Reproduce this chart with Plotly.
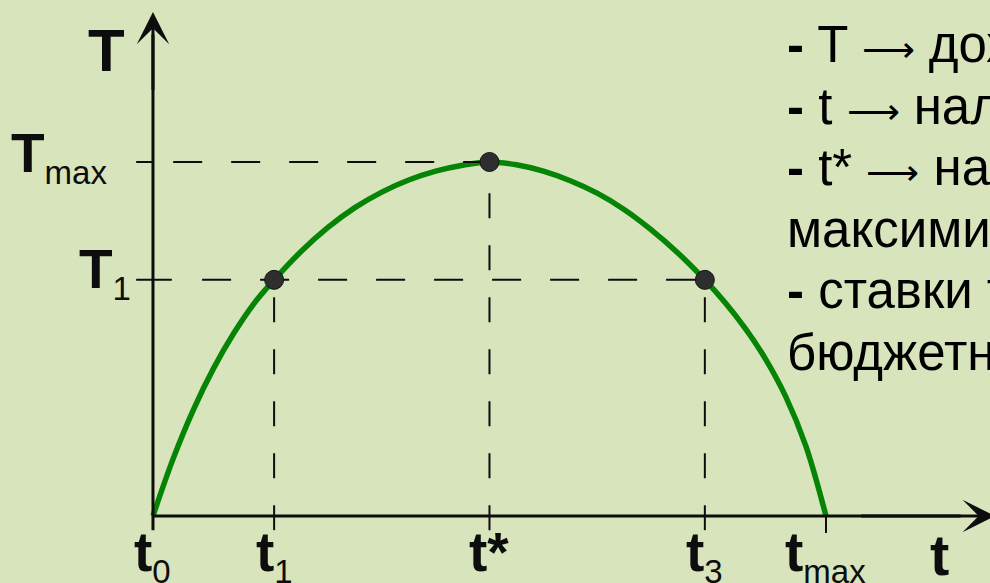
"""Laffer curve: tax revenue T against tax rate t."""

import plotly.graph_objects as go

# Curve (t_max = 100, T_max = 100)
curve_t = [0, 3, 6, 9, 12, 15, 18, 22, 26, 30, 34, 38, 42, 46, 50,
           54, 58, 62, 66, 70, 74, 78, 82, 85, 88, 91, 94, 97, 100]
curve_T = [0, 16.2, 30.0, 41.7, 51.6, 60.0, 66.7, 74.7, 81.5, 87.1, 91.5, 94.9, 97.4, 99.1, 100,
           99.2, 97.4, 94.7, 91.2, 86.6, 80.9, 74.3, 66.7, 60.3, 53.0, 44.4, 33.8, 19.8, 0]

# Marked points t1, t*, t3
point_t = [18.0, 50.0, 82.0]
point_T = [66.7, 100.0, 66.7]

# Axis ticks and labels
SUB = '<sub><span style="font-size:33px">{}</span></sub>'
tick_t = [0, 18.0, 50.0, 82.0, 100.0]
tick_labels = ["<b>t</b>" + SUB.format("0"), "<b>t</b>" + SUB.format("1"), "<b>t*</b>",
               "<b>t</b>" + SUB.format("3"), "<b>t</b>" + SUB.format("max")]
level_T = [100.0, 66.7]
level_labels = ["<b>T</b>" + SUB.format("max"), "<b>T</b>" + SUB.format("1")]

ARROW = '<span style="font-size:37px">⟶</span>'
notes = [
    "<b>-</b> T " + ARROW + " доходы бюджета",
    "<b>-</b> t " + ARROW + " налоговая ставка",
    "<b>-</b> t* " + ARROW + " налоговая ставка,",
    "максимизирующая доходы",
    "<b>-</b> ставки т₁ и т₃ дают равные",
    "бюджетные поступления",
]

W, H = 990, 583
X_RANGE = [-22.73, 124.37]
Y_RANGE = [-18.93, 145.76]
BG = "#D8E4BC"
FONT = "Liberation Sans, Arial, sans-serif"
INK = "#0d0d0d"


def px(x):
    return x / W


def py(y):
    return 1 - y / H


fig = go.Figure()

# the curve
fig.add_trace(go.Scatter(x=curve_t, y=curve_T, mode="lines", line_shape="spline",
                         line=dict(color="#058405", width=5.5), hoverinfo="skip"))

# axes
fig.add_trace(go.Scatter(x=[0, 0], y=[-4, 136], mode="lines",
                         line=dict(color=INK, width=3), hoverinfo="skip"))
fig.add_trace(go.Scatter(x=[0, 120], y=[0, 0], mode="lines",
                         line=dict(color=INK, width=3), hoverinfo="skip"))

# dashed guides to the levels
h_starts = [3.0, 7.3]
h_ends = [point_t[1], point_t[2]]
for T, x0, x1 in zip(level_T, h_starts, h_ends):
    fig.add_trace(go.Scatter(x=[x0, x1], y=[T, T], mode="lines",
                             line=dict(color=INK, width=2, dash="29px,29px"), hoverinfo="skip"))
for T, x1 in zip(level_T, [0, 2.8]):
    fig.add_trace(go.Scatter(x=[-2.5, x1], y=[T, T], mode="lines",
                             line=dict(color=INK, width=2), hoverinfo="skip"))

# dashed guides down to the t axis
for t, T in zip(point_t, point_T):
    fig.add_trace(go.Scatter(x=[t, t], y=[-4, T], mode="lines",
                             line=dict(color=INK, width=2, dash="25px,27px"), hoverinfo="skip"))
fig.add_trace(go.Scatter(x=[tick_t[-1], tick_t[-1]], y=[-4.8, 0], mode="lines",
                         line=dict(color=INK, width=2), hoverinfo="skip"))

# the points
fig.add_trace(go.Scatter(x=point_t, y=point_T, mode="markers",
                         marker=dict(size=19, color="#2e2e2e", line=dict(color="#151515", width=1)),
                         hoverinfo="skip"))

annotations = []

# arrow heads
annotations.append(dict(x=0, y=142.4, ax=0, ay=120, xref="x", yref="y", axref="x", ayref="y",
                        text="", showarrow=True, arrowhead=3, arrowwidth=3, arrowsize=1.8,
                        arrowcolor=INK, standoff=0, startstandoff=0))
annotations.append(dict(x=125.1, y=0, ax=105, ay=0, xref="x", yref="y", axref="x", ayref="y",
                        text="", showarrow=True, arrowhead=3, arrowwidth=3, arrowsize=1.8,
                        arrowcolor=INK, standoff=0, startstandoff=0))

# axis names
annotations.append(dict(x=px(106), y=py(15), xref="paper", yref="paper", text="<b>T</b>",
                        showarrow=False, xanchor="center", yanchor="top",
                        font=dict(size=60, color=INK, family=FONT)))
annotations.append(dict(x=px(939), y=py(520), xref="paper", yref="paper", text="<b>t</b>",
                        showarrow=False, xanchor="center", yanchor="top",
                        font=dict(size=58, color=INK, family=FONT)))

# tick labels
for t, lab in zip(tick_t, tick_labels):
    annotations.append(dict(x=t, y=py(519), xref="x", yref="paper", text=lab,
                            showarrow=False, xanchor="center", yanchor="top",
                            font=dict(size=55, color=INK, family=FONT)))
for T, lab, x0, dy in zip(level_T, level_labels, [9, 77], [-4, -6]):
    top = 516 - T * 3.54 + 12 - 0.905 * 55 + dy
    annotations.append(dict(x=px(x0), y=py(top), xref="paper", yref="paper", text=lab,
                            showarrow=False, xanchor="left", yanchor="top",
                            font=dict(size=55, color=INK, family=FONT)))

# notes on the right, partly running off the slide
for i, line in enumerate(notes):
    annotations.append(dict(x=px(785), y=py(14 + i * 61.6), xref="paper", yref="paper",
                            text=line, showarrow=False, xanchor="left", yanchor="top",
                            font=dict(size=51, color="#000000", family=FONT)))

fig.update_layout(
    width=W,
    height=H,
    margin=dict(l=0, r=0, t=0, b=0),
    paper_bgcolor=BG,
    plot_bgcolor=BG,
    showlegend=False,
    xaxis=dict(range=X_RANGE, visible=False, fixedrange=True),
    yaxis=dict(range=Y_RANGE, visible=False, fixedrange=True),
    annotations=annotations,
)

fig.write_html("out.html", config={"displayModeBar": False},
               post_script="document.body.style.margin='0';")
